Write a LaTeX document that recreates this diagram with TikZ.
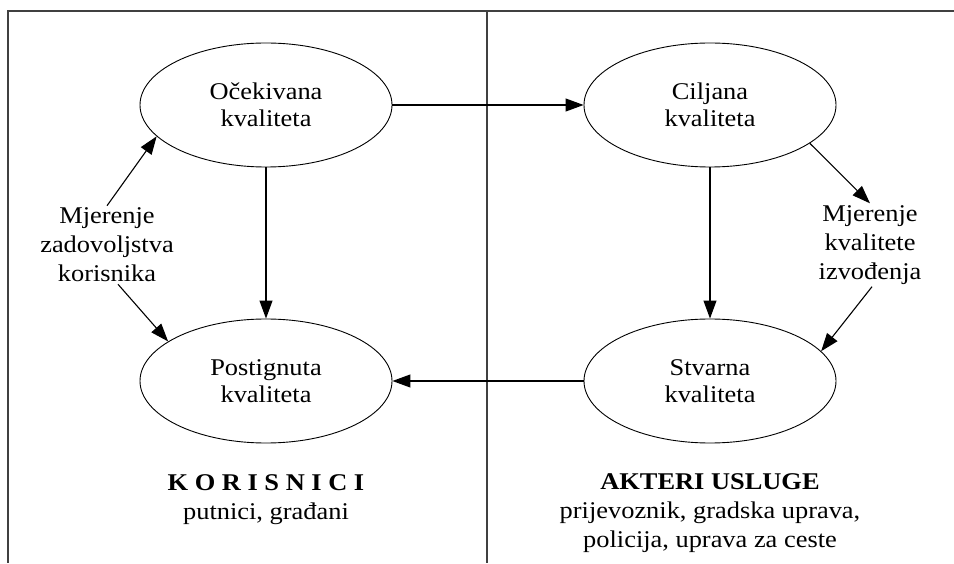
\documentclass[tikz,border=0pt]{standalone}
\usepackage{fontspec}
\setmainfont{Liberation Serif}[FakeStretch=1.1]
\usetikzlibrary{shapes.geometric,arrows.meta}

\begin{document}
\begin{tikzpicture}[
		x=1pt, y=1pt,
		every node/.style={align=center, inner sep=2pt, font=\fontsize{24}{29}\selectfont},
		kval/.style={ellipse, draw, line width=0.9pt, minimum width=252pt, minimum height=124pt, inner sep=0pt, font=\fontsize{24}{27}\selectfont},
		tok/.style={-{Triangle[length=18pt,width=13pt]}, line width=1.1pt},
		okvir/.style={line width=2pt, black!75}
	]
  \useasboundingbox (0,0) rectangle (954,563);
  % okvir
  \draw[okvir] (954,552) -- (8,552) -- (8,0);
  \draw[okvir] (487,552) -- (487,0);
  % kvalitete
  \node (ocek) [kval] at (266,458) {Očekivana\\kvaliteta};
  \node (cilj) [kval] at (710,458) {Ciljana\\kvaliteta};
  \node (post) [kval] at (266,182) {Postignuta\\kvaliteta};
  \node (stvar) [kval] at (710,182) {Stvarna\\kvaliteta};
  % mjerenja
  \node (mzad) at (107,318) {Mjerenje\\zadovoljstva\\korisnika};
  \node (mizv) at (870,318) {Mjerenje\\kvalitete\\izvođenja};
  % akteri
  \node (koris) at (266,63) {\fontsize{24}{26}\selectfont\textbf{K O R I S N I C I}\\putnici, građani};
  \node (akteri) at (710,50) {\fontsize{24}{26}\selectfont\textbf{AKTERI USLUGE}\\prijevoznik, gradska uprava,\\policija, uprava za ceste};
  \draw[tok] (ocek) -- (cilj);
  \draw[tok] (ocek) -- (post);
  \draw[tok] (cilj) -- (stvar);
  \draw[tok] (stvar) -- (post);
  \draw[tok] (mzad.north) -- (ocek.196);
  \draw[tok] ([xshift=11pt]mzad.south) -- (post.158);
  \draw[tok] (cilj.339) -- (mizv.north);
  \draw[tok] ([xshift=2pt]mizv.south) -- (stvar.15);
\end{tikzpicture}
\end{document}
